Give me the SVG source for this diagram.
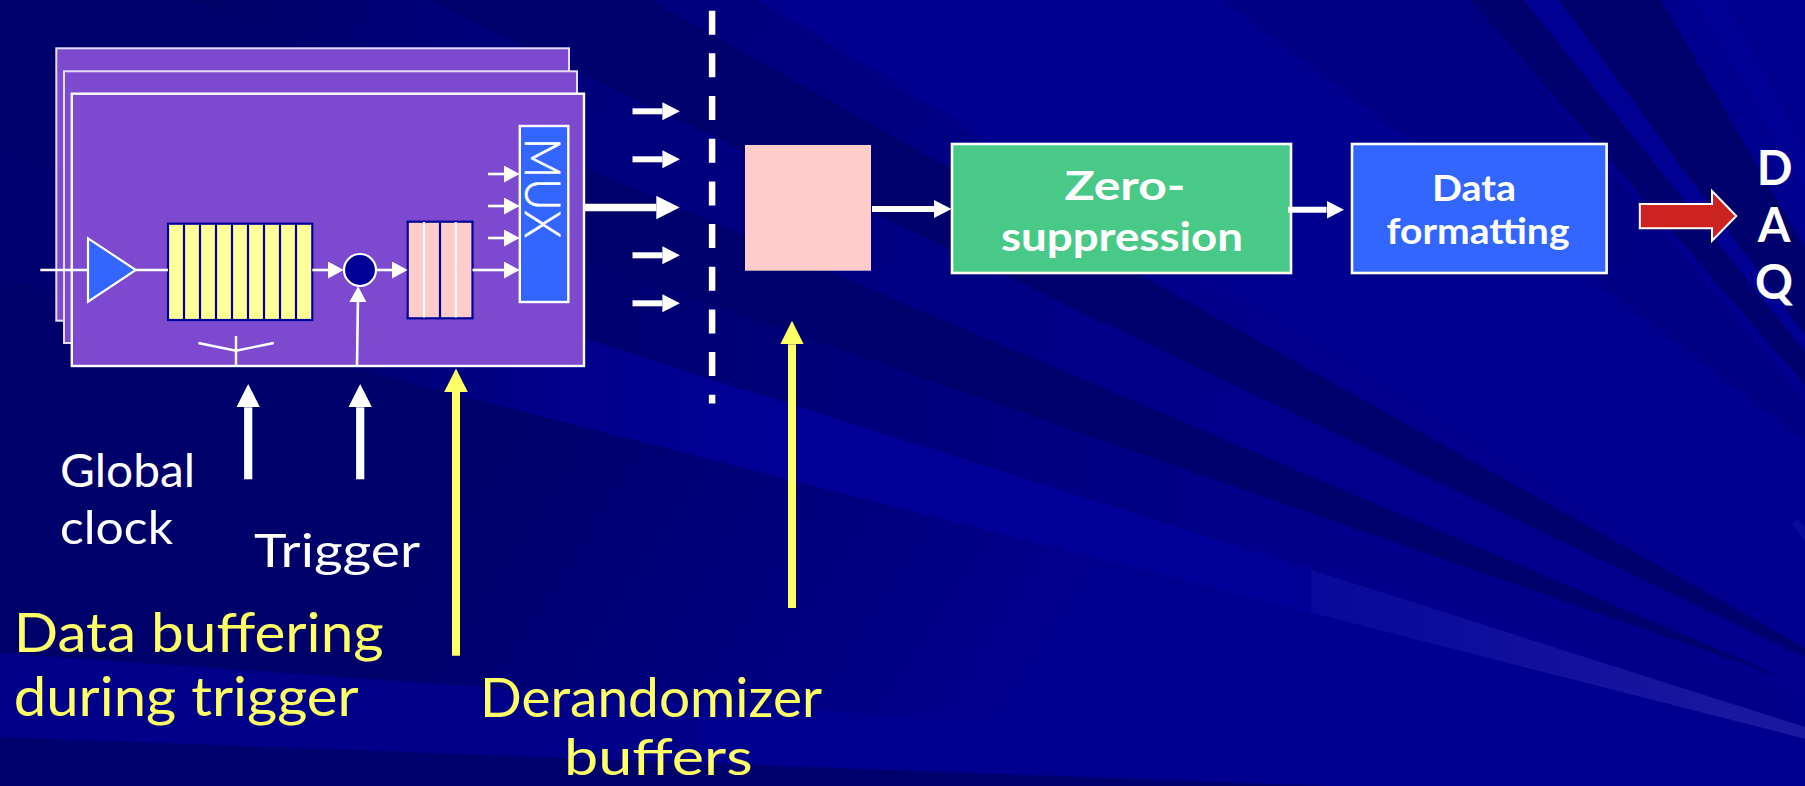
<svg xmlns="http://www.w3.org/2000/svg" width="1805" height="786" viewBox="0 0 1805 786">
<style>
.card{fill:#7d49cf;stroke:#fff;stroke-width:2.4}
.card.back{stroke:#e4dcf5;stroke-width:2}
.box{stroke:#fff;stroke-width:2.6}
.cell{stroke:#000099;stroke-width:2.2}
.thin{stroke:#fff;stroke-width:2.4;fill:none}
.cellw{stroke:#fff;stroke-width:2;fill:none}
.a1{stroke:#fff;stroke-width:2.6;fill:none;marker-end:url(#h1)}
.a2{stroke:#fff;stroke-width:6;fill:none;marker-end:url(#h2)}
.a3{stroke:#fff;stroke-width:7.4;fill:none;marker-end:url(#h3)}
.a4{stroke:#fff;stroke-width:8.2;fill:none;marker-end:url(#h4)}
.a5{stroke:#ffff66;stroke-width:8;fill:none;marker-end:url(#h5)}
.bold{font-family:"Lato","Liberation Sans",sans-serif;font-weight:700;fill:#fff}
.hand{font-family:"Lato","Noto Sans",sans-serif;font-weight:400}
.w{fill:#fff;font-size:47px}
.y{fill:#ffff66;font-size:54px}
.ray{fill:#00006c}
</style>
<defs>
<marker id="h1" markerUnits="userSpaceOnUse" markerWidth="16" markerHeight="18" refX="0" refY="8.5" orient="auto"><path d="M0 0L15.7 8.5L0 17z" fill="#fff"/></marker>
<marker id="h2" markerUnits="userSpaceOnUse" markerWidth="18" markerHeight="19" refX="0" refY="9" orient="auto"><path d="M0 0L17.5 9L0 18z" fill="#fff"/></marker>
<marker id="h3" markerUnits="userSpaceOnUse" markerWidth="24" markerHeight="24" refX="0" refY="11.7" orient="auto"><path d="M0 0L23.3 11.7L0 23.4z" fill="#fff"/></marker>
<marker id="h4" markerUnits="userSpaceOnUse" markerWidth="24" markerHeight="24" refX="0" refY="11.8" orient="auto"><path d="M0 0L23.4 11.8L0 23.6z" fill="#fff"/></marker>
<marker id="h5" markerUnits="userSpaceOnUse" markerWidth="24" markerHeight="24" refX="0" refY="11.8" orient="auto"><path d="M0 0L23.6 11.8L0 23.6z" fill="#ffff66"/></marker>
<linearGradient id="tl" gradientUnits="userSpaceOnUse" x1="0" y1="0" x2="1300" y2="300"><stop offset="0" stop-color="#000058"/><stop offset=".35" stop-color="#00007a"/><stop offset="1" stop-color="#00008c"/></linearGradient>
<linearGradient id="mid" gradientUnits="userSpaceOnUse" x1="500" y1="0" x2="1250" y2="0"><stop offset="0" stop-color="#00006c"/><stop offset="1" stop-color="#00008a"/></linearGradient>
<linearGradient id="low" gradientUnits="userSpaceOnUse" x1="500" y1="430" x2="1000" y2="750"><stop offset="0" stop-color="#00006a"/><stop offset=".5" stop-color="#00007c"/><stop offset="1" stop-color="#00008f"/></linearGradient>
<linearGradient id="glow" gradientUnits="userSpaceOnUse" x1="0" y1="0" x2="1805" y2="0"><stop offset="0" stop-color="#000070"/><stop offset=".2" stop-color="#000074"/><stop offset=".3" stop-color="#00008a"/><stop offset=".45" stop-color="#000097"/><stop offset=".726" stop-color="#000099"/><stop offset=".7265" stop-color="#08089a"/><stop offset="1" stop-color="#1a1aa0"/></linearGradient>
</defs>
<g id="background">
<rect width="1805" height="786" fill="#00008f"/>
<rect y="650" width="700" height="136" fill="#000088"/>
<path d="M0 0H760L1805 648V700L0 57z" fill="url(#tl)"/>
<path class="ray" d="M427 0H650L1805 648V657z"/>
<path class="ray" d="M190 0L1790 680L0 57V0z"/>
<path d="M0 57L1790 680L1805 727L0 153z" fill="url(#mid)"/>
<path d="M0 153L1805 727V739L0 278z" fill="url(#glow)"/>
<path d="M0 278L1805 739V780L0 653z" fill="url(#low)"/>
<path d="M0 737L1325 786H0z" fill="#00006c"/>
<path d="M1223 0H1470L1805 400V440z" fill="#000085"/>
<path d="M1470 0H1524L1805 345V385z" fill="#00006e"/>
<path d="M1524 0H1559L1805 335V352z" fill="#000092"/>
<path d="M1559 0H1661L1805 248V335z" fill="#00006c"/>
<path d="M1695 0H1725L1805 150V190z" fill="#000095"/>
<path d="M1792 525L1797 518L1805 527V541z" fill="#0a0a98"/>
</g>
<g id="card-back-2"><rect class="card back" x="56.3" y="48.3" width="512.7" height="272.4"/></g>
<g id="card-back-1"><rect class="card back" x="64" y="71.3" width="513" height="271.7"/></g>
<g id="card-front"><rect class="card" x="71.8" y="93.7" width="512.2" height="272.3"/></g>
<g id="amplifier"><path d="M88 238.3L135.8 270L88 301.7z" fill="#3366ff" stroke="#fff" stroke-width="2.2"/></g>
<g id="pipeline">
<rect x="168" y="223.7" width="144.3" height="96.3" fill="#ffff99" class="cell"/>
<path class="cell" fill="none" d="M184 223.7V320M200 223.7V320M216 223.7V320M232 223.7V320M248 223.7V320M264 223.7V320M280 223.7V320M296 223.7V320"/>
</g>
<g id="gate"><circle cx="360" cy="270" r="16" fill="#000099" stroke="#fff" stroke-width="2.2"/></g>
<g id="derandomizer-local">
<rect x="407.7" y="221.7" width="64.8" height="96.6" fill="#ffcccc" class="cell"/>
<path class="cell" fill="none" d="M440 221.7V318.3"/>
<path class="cellw" d="M424 222V317.5M455.8 222V317.5"/>
</g>
<g id="mux">
<rect x="519.8" y="126" width="48.5" height="176" fill="#3366ff" stroke="#fff" stroke-width="2.4"/>
<text transform="translate(525.4,138) rotate(90)" x="0" y="0" font-family="Lato,'Liberation Sans',sans-serif" font-weight="300" font-size="49" textLength="100" lengthAdjust="spacingAndGlyphs" fill="#fff" stroke="#fff" stroke-width=".6">MUX</text>
</g>
<g id="derandomizer"><rect x="745" y="145" width="126" height="125.7" fill="#ffcccc"/></g>
<g id="zero-suppression">
<rect class="box" x="952" y="144" width="339" height="129" fill="#48c988"/>
<text class="bold" x="1125" y="200" font-size="41" text-anchor="middle" textLength="121" lengthAdjust="spacingAndGlyphs">Zero-</text>
<text class="bold" x="1122" y="250.7" font-size="41" text-anchor="middle" textLength="242" lengthAdjust="spacingAndGlyphs">suppression</text>
</g>
<g id="data-formatting">
<rect class="box" x="1352" y="144" width="254.6" height="129" fill="#3366ff"/>
<text class="bold" x="1474" y="200.7" font-size="36" text-anchor="middle" textLength="84" lengthAdjust="spacingAndGlyphs">Data</text>
<text class="bold" x="1478" y="244" font-size="36" text-anchor="middle" textLength="183" lengthAdjust="spacingAndGlyphs">formatting</text>
</g>
<g id="daq-label">
<text class="bold" x="1774.5" y="184.7" font-size="47" text-anchor="middle">D</text>
<text class="bold" x="1774" y="241.7" font-size="47" text-anchor="middle">A</text>
<text class="bold" x="1774" y="299" font-size="47" text-anchor="middle">Q</text>
</g>
<g id="labels">
<text class="hand w" x="60" y="486.7" textLength="135" lengthAdjust="spacingAndGlyphs">Global</text>
<text class="hand w" x="60" y="544" textLength="113" lengthAdjust="spacingAndGlyphs">clock</text>
<text class="hand w" x="254" y="566.7" textLength="166" lengthAdjust="spacingAndGlyphs">Trigger</text>
<text class="hand y" x="13.7" y="652.3" textLength="370" lengthAdjust="spacingAndGlyphs">Data buffering</text>
<text class="hand y" x="13.7" y="716" textLength="345" lengthAdjust="spacingAndGlyphs">during trigger</text>
<text class="hand y" x="480" y="716.7" textLength="342" lengthAdjust="spacingAndGlyphs">Derandomizer</text>
<text class="hand y" x="564" y="775" style="font-size:50px" textLength="188.6" lengthAdjust="spacingAndGlyphs">buffers</text>
</g>
<g id="connectors">
<path class="thin" d="M40.3 270H88M135.8 270H168"/>
<path class="a1" d="M312.3 270H328"/>
<path class="a1" d="M376.3 270H392"/>
<path class="a1" d="M472.5 270H504"/>
<path class="a1" d="M488 174H504"/>
<path class="a1" d="M488 206H504"/>
<path class="a1" d="M488 238H504"/>
<path class="a1" d="M357 366L357.9 302"/>
<path class="thin" d="M236 336V366M198.3 343L236 350.7L273.8 343"/>
<path class="a3" d="M585 207.5H656.3"/>
<path class="a2" d="M632.5 111.3H662.4"/>
<path class="a2" d="M632.5 159.3H662.4"/>
<path class="a2" d="M632.5 255.3H662.4"/>
<path class="a2" d="M632.5 303.3H662.4"/>
<path d="M712.1 10.7V403.5" fill="none" stroke="#fff" stroke-width="6.5" stroke-dasharray="24 18.67"/>
<path class="a2" d="M872 209H934"/>
<path class="a2" d="M1288 209.7H1326.5"/>
<path d="M1639.8 204H1712V191L1736.3 216L1712 240.7V228.3H1639.8z" fill="#cc2222" stroke="#fff" stroke-width="2"/>
<path class="a4" d="M248.2 479.3V407.3"/>
<path class="a4" d="M360.2 479.3V407.3"/>
<path class="a5" d="M456 655.7V392"/>
<path class="a5" d="M792 608V344.3"/>
</g>
</svg>
